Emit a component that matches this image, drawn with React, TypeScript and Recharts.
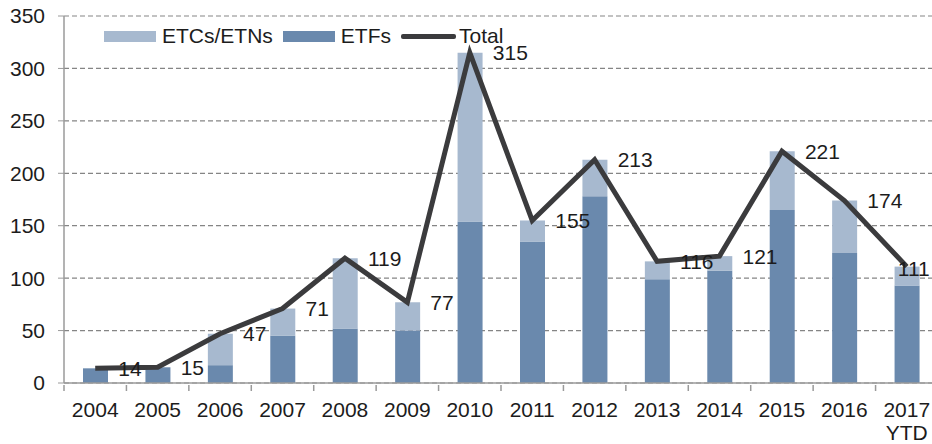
import React from 'react';
import {
  ComposedChart,
  Bar,
  Line,
  XAxis,
  YAxis,
  CartesianGrid,
  LabelList,
} from 'recharts';

const years = ['2004', '2005', '2006', '2007', '2008', '2009', '2010', '2011', '2012', '2013', '2014', '2015', '2016', '2017\nYTD'];
const etfs = [14, 15, 17, 45, 52, 50, 154, 135, 178, 99, 107, 165, 124, 93];
const totals = [14, 15, 47, 71, 119, 77, 315, 155, 213, 116, 121, 221, 174, 111];
const yTicks = [0, 50, 100, 150, 200, 250, 300, 350];

const LIGHT = '#a7b9cf';
const DARK = '#6a89ad';
const LINE = '#3b3b3d';
const TEXT = '#1c1c1c';
const AXIS = '#9a9a9a';
const FONT = '"Liberation Sans", Arial, sans-serif';
const FS = 21;

const data = years.map((year, i) => ({
  year,
  etf: etfs[i],
  etc: totals[i] - etfs[i],
  total: totals[i],
}));

// x tick: tick mark sits on the band boundary, label under the band centre
// eslint-disable-next-line @typescript-eslint/no-explicit-any
const XTick = ({ x, y, payload }: any) => {
  const half = payload && payload.offset ? payload.offset : 31.2;
  const lines = String(payload.value).split('\n');
  return (
    <g>
      <line x1={x - half} x2={x - half} y1={y} y2={y + 6} stroke={AXIS} strokeWidth={1.5} />
      <text x={x} y={y + 32} textAnchor="middle" fill={TEXT} fontSize={FS} fontFamily={FONT}>
        {lines.map((l, i) => (
          <tspan key={i} x={x} dy={i === 0 ? 0 : 23}>
            {l}
          </tspan>
        ))}
      </text>
    </g>
  );
};

// eslint-disable-next-line @typescript-eslint/no-explicit-any
const TotalLabel = ({ x, y, value, index }: any) => (
  <text
    x={index === totals.length - 1 ? x - 9 : x + 23}
    y={index === totals.length - 1 ? y + 2 : y}
    dominantBaseline="central"
    fill={TEXT}
    fontSize={FS}
    fontFamily={FONT}
  >
    {value}
  </text>
);

const ChartLegend = () => {
  const item = (swatch: React.ReactNode, label: string, gap: number, mr: number) => (
    <div style={{ display: 'flex', alignItems: 'center', marginRight: mr }}>
      {swatch}
      <span style={{ marginLeft: gap, fontSize: FS, color: TEXT, fontFamily: FONT, lineHeight: '22px' }}>{label}</span>
    </div>
  );
  return (
    <div style={{ position: 'absolute', left: 104, top: 25, display: 'flex', alignItems: 'center' }}>
      {item(<div style={{ width: 52, height: 11, background: LIGHT }} />, 'ETCs/ETNs', 6, 10)}
      {item(<div style={{ width: 52, height: 11, background: DARK }} />, 'ETFs', 6, 10)}
      {item(<div style={{ width: 55, height: 5, background: LINE, borderRadius: 2 }} />, 'Total', 3, 0)}
    </div>
  );
};

export default function App() {
  return (
    <div style={{ position: 'fixed', left: 0, top: 0, width: 932, height: 444, overflow: 'hidden', background: '#fff' }}>
      <ComposedChart
        width={938}
        height={444}
        data={data}
        margin={{ top: 16, right: 0, bottom: 0, left: 0 }}
        barCategoryGap="60%"
      >
        <CartesianGrid vertical={false} stroke="#858585" strokeDasharray="5 3" strokeWidth={1.2} />
        <XAxis
          dataKey="year"
          height={61}
          tick={<XTick />}
          tickLine={false}
          tickSize={0}
          axisLine={{ stroke: AXIS, strokeWidth: 1.5 }}
          interval={0}
        />
        <YAxis
          domain={[0, 350]}
          ticks={yTicks}
          width={64}
          tickSize={6}
          tickMargin={13}
          tickLine={{ stroke: AXIS }}
          axisLine={{ stroke: AXIS, strokeWidth: 1.5 }}
          tick={{ fill: TEXT, fontSize: FS, fontFamily: FONT }}
        />
        <Bar dataKey="etf" stackId="a" fill={DARK} barSize={25} isAnimationActive={false} />
        <Bar dataKey="etc" stackId="a" fill={LIGHT} barSize={25} isAnimationActive={false} />
        <Line
          type="linear"
          dataKey="total"
          stroke={LINE}
          strokeWidth={5}
          dot={false}
          activeDot={false}
          isAnimationActive={false}
        >
          <LabelList dataKey="total" content={<TotalLabel />} />
        </Line>
      </ComposedChart>
      <ChartLegend />
    </div>
  );
}
